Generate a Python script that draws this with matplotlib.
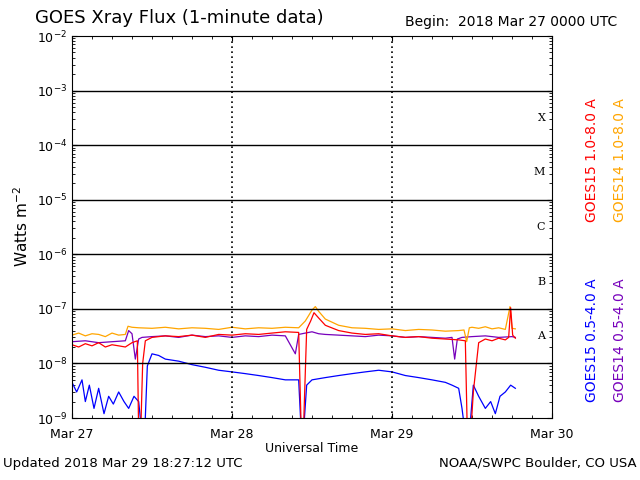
import matplotlib
matplotlib.use("Agg")
import numpy as np
import matplotlib.pyplot as plt
from matplotlib.ticker import NullFormatter

# ------------------------------
# Data (hours since 2018 Mar 27 0000 UTC, flux in W m^-2)
# ------------------------------
t_g15_long = [0, 1, 2, 3, 4, 5, 6, 7, 8, 9, 9.8, 10.0, 10.3, 10.6, 11, 12, 14, 16, 18, 20, 22, 24, 26, 28, 30, 32, 34,
              34.4, 34.7, 35.2, 35.8, 36.3, 37, 38, 40, 42, 44, 46, 48, 50, 52, 54, 56, 58, 59,
              59.3, 59.8, 60.2, 61, 62, 63, 64, 65, 65.5, 65.8, 66.1, 66.5]
v_g15_long = [2.2, 2.0, 2.3, 2.1, 2.4, 2.0, 2.2, 2.1, 2.0, 2.4, 2.6, 0.05, 0.05, 1.0, 2.6, 3.0, 3.2, 3.1, 3.3, 3.0, 3.4, 3.3,
              3.5, 3.4, 3.6, 3.8, 3.7, 0.05, 0.05, 4.2, 6.0, 8.5, 6.8, 5.0, 4.0, 3.6, 3.4, 3.5, 3.2, 3.0, 3.1, 2.9,
              2.8, 2.7, 2.6, 0.05, 0.05, 0.3, 2.4, 2.8, 2.6, 2.9, 2.7, 3.0, 10.5, 3.3, 2.9]
t_g14_long = [0, 1, 2, 3, 4, 5, 6, 7, 8, 8.4, 9, 10, 12, 14, 16, 18, 20, 22, 24, 26, 28, 30, 32, 34, 35, 36, 36.5,
              37, 38, 40, 42, 44, 46, 48, 50, 52, 54, 56, 58, 58.8, 59.2, 59.6, 60, 61, 62, 63, 64, 65, 65.7, 66, 66.5]
v_g14_long = [3.3, 3.6, 3.2, 3.5, 3.4, 3.1, 3.6, 3.3, 3.4, 4.8, 4.6, 4.5, 4.4, 4.6, 4.3, 4.5, 4.4, 4.2, 4.6, 4.3, 4.5,
              4.4, 4.6, 4.5, 6.0, 9.5, 11.0, 9.0, 6.5, 5.0, 4.5, 4.4, 4.2, 4.3, 4.0, 4.2, 4.1, 3.9, 4.0, 4.1, 2.5,
              4.5, 4.6, 4.4, 4.7, 4.3, 4.5, 4.2, 11.0, 4.4, 4.3]
t_g15_short = [0, 0.7, 1.5, 2, 2.6, 3.3, 4, 4.8, 5.5, 6.2, 7, 7.8, 8.5, 9.3, 10, 10.5, 10.9, 11.3, 12, 13, 14, 16, 18, 20,
               22, 24, 26, 28, 30, 32, 34, 34.4, 34.7, 35.2, 36, 38, 40, 42, 44, 46, 48, 50, 52, 54, 56, 57, 58,
               58.5, 59, 59.6, 60.2, 61, 62, 62.8, 63.5, 64.2, 65, 65.8, 66.5]
v_g15_short = [0.45, 0.30, 0.50, 0.20, 0.40, 0.15, 0.35, 0.12, 0.25, 0.18, 0.30, 0.20, 0.15, 0.25, 0.2, 0.05, 0.05, 0.9,
               1.5, 1.4, 1.2, 1.1, 0.95, 0.85, 0.75, 0.7, 0.65, 0.6, 0.55, 0.5, 0.5, 0.05, 0.05, 0.4, 0.5, 0.55, 0.6,
               0.65, 0.7, 0.75, 0.7, 0.6, 0.55, 0.5, 0.45, 0.4, 0.35, 0.15, 0.05, 0.05, 0.4, 0.25, 0.15, 0.2, 0.12,
               0.25, 0.3, 0.4, 0.35]
t_g14_short = [0, 2, 4, 6, 8, 8.5, 9, 9.5, 10, 10.5, 12, 14, 16, 18, 20, 22, 24, 26, 28, 30, 32, 33.5, 34, 35, 36,
               37, 38, 40, 42, 44, 46, 48, 50, 52, 54, 56, 57, 57.4, 57.8, 58.5, 60, 62, 64, 66, 66.5]
v_g14_short = [2.5, 2.6, 2.4, 2.5, 2.6, 4.0, 3.5, 1.2, 2.8, 3.0, 3.1, 3.2, 3.0, 3.3, 3.1, 3.2, 3.0, 3.2, 3.1, 3.3, 3.2,
               1.5, 3.4, 3.6, 3.8, 3.5, 3.4, 3.3, 3.2, 3.1, 3.3, 3.2, 3.0, 3.1, 3.0, 2.9, 3.0, 1.2, 2.8, 3.0,
               3.1, 3.2, 3.0, 3.1, 3.0]

tick_hours = [0, 24, 48, 72]
tick_labels = ["Mar 27", "Mar 28", "Mar 29", "Mar 30"]
classes = ["A", "B", "C", "M", "X"]

fig = plt.figure(figsize=(6.4, 4.8), dpi=100)
ax = fig.add_axes([72 / 640, 62 / 480, 480 / 640, 382 / 480])

ax.plot(t_g15_short, np.array(v_g15_short) * 1e-8, color="#0000ff", lw=0.9)
ax.plot(t_g14_short, np.array(v_g14_short) * 1e-8, color="#7700bb", lw=0.9)
ax.plot(t_g14_long, np.array(v_g14_long) * 1e-8, color="#ffa500", lw=0.9)
ax.plot(t_g15_long, np.array(v_g15_long) * 1e-8, color="#ff0000", lw=0.9)

ax.set_yscale("log")
ax.set_ylim(1e-9, 1e-2)
ax.set_xlim(0, 72)

for e in range(-8, -2):
    ax.axhline(10.0 ** e, color="black", lw=1)
for h in (24, 48):
    ax.axvline(h, color="black", lw=1.2, ls=(0, (1, 2)))

for i, c in enumerate(classes):
    ax.text(71, 10 ** (-7.5 + i), c, fontsize=8, family="serif", ha="right", va="center")

ax.set_xticks(tick_hours)
ax.set_xticklabels(tick_labels)
ax.set_xticks(np.arange(0, 73, 3), minor=True)
ax.xaxis.set_minor_formatter(NullFormatter())
ax.yaxis.set_minor_formatter(NullFormatter())
ax.tick_params(which="both", direction="in", top=True, right=True, labelsize=9)
ax.tick_params(axis="x", pad=7)
ax.set_xlabel("Universal Time", fontsize=9, labelpad=1)
ax.set_ylabel("Watts m$^{-2}$", fontsize=11)

fig.text(35 / 640, 1 - 18 / 480, "GOES Xray Flux (1-minute data)", fontsize=13, va="center")
fig.text(405 / 640, 1 - 22 / 480, "Begin:  2018 Mar 27 0000 UTC", fontsize=10, va="center")
fig.text(3 / 640, 1 - 463 / 480, "Updated 2018 Mar 29 18:27:12 UTC", fontsize=9.5, va="center")
fig.text(637 / 640, 1 - 463 / 480, "NOAA/SWPC Boulder, CO USA", fontsize=9.5, va="center", ha="right")

fig.text(592 / 640, 1 - 160 / 480, "GOES15 1.0-8.0 A", color="#ff0000", rotation=90, fontsize=10, ha="center", va="center")
fig.text(620 / 640, 1 - 160 / 480, "GOES14 1.0-8.0 A", color="#ffa500", rotation=90, fontsize=10, ha="center", va="center")
fig.text(592 / 640, 1 - 340 / 480, "GOES15 0.5-4.0 A", color="#0000ff", rotation=90, fontsize=10, ha="center", va="center")
fig.text(620 / 640, 1 - 340 / 480, "GOES14 0.5-4.0 A", color="#7700bb", rotation=90, fontsize=10, ha="center", va="center")

fig.savefig("out.png", dpi=100)
